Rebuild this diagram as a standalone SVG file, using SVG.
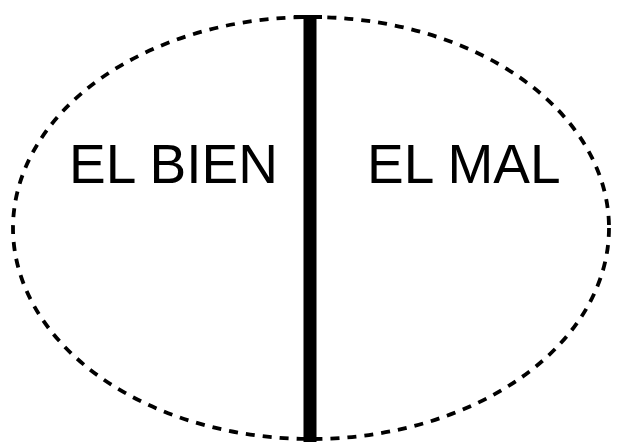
<svg xmlns="http://www.w3.org/2000/svg" width="619" height="442" viewBox="0 0 619 442">
<style>
.lbl{font-family:"Liberation Sans",Arial,sans-serif;font-size:55px;fill:#000}
</style>
<rect width="619" height="442" fill="#fff"/>
<g id="ellipse">
<ellipse cx="311" cy="228" rx="298" ry="211" fill="none" stroke="#000" stroke-width="3.8" stroke-dasharray="9 8"/>
</g>
<g id="connectors">
<line x1="310" y1="15" x2="310" y2="442" stroke="#000" stroke-width="13"/>
<line x1="294" y1="17" x2="322" y2="17" stroke="#000" stroke-width="4"/>
</g>
<g id="bien"><text class="lbl" x="69" y="183">EL BIEN</text></g>
<g id="mal"><text class="lbl" x="367" y="183">EL MAL</text></g>
</svg>
